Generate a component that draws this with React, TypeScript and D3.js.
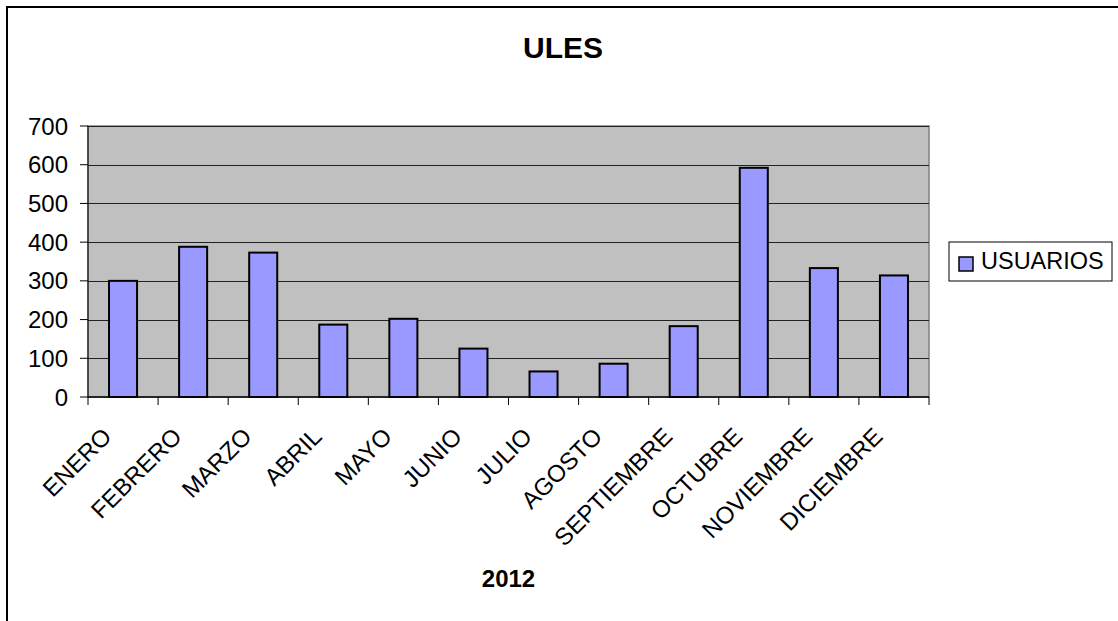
import React from "react";
import * as d3 from "d3";

const months = ["ENERO","FEBRERO","MARZO","ABRIL","MAYO","JUNIO","JULIO","AGOSTO","SEPTIEMBRE","OCTUBRE","NOVIEMBRE","DICIEMBRE"];
const usuarios = [300, 388, 373, 187, 202, 125, 66, 86, 183, 592, 333, 314];
const yTicks = [0, 100, 200, 300, 400, 500, 600, 700];
const seriesName = "USUARIOS";
const title = "ULES";
const xTitle = "2012";

export default function App() {
  const W = 1118, H = 621;
  const left = 88, right = 929, top = 126, bottom = 397;
  const x = d3.scaleBand<string>().domain(months).range([left, right]).padding(0);
  const y = d3.scaleLinear().domain([0, 700]).range([bottom, top]);
  const bw = x.bandwidth() * 0.4;
  const font = "Arial, 'Liberation Sans', sans-serif";
  const boundaries = d3.range(months.length + 1).map(i => left + i * x.bandwidth());

  return (
    <svg width={W} height={H} style={{ position: "absolute", left: 0, top: 0, background: "#fff" }}>
      <rect x={7} y={7} width={1300} height={800} fill="#fff" stroke="#000" strokeWidth={2} />
      <text x={563} y={58} textAnchor="middle" fontFamily={font} fontWeight="bold" fontSize={30}>{title}</text>
      <rect x={left} y={top} width={right - left} height={bottom - top} fill="#C0C0C0" stroke="#808080" strokeWidth={1.5} />
      {yTicks.slice(1).map(t => (
        <line key={"g" + t} x1={left} x2={right} y1={Math.round(y(t)) + 0.5} y2={Math.round(y(t)) + 0.5} stroke="#222" strokeWidth={1} />
      ))}
      {usuarios.map((v, i) => {
        const cx = (x(months[i]) as number) + x.bandwidth() / 2;
        return <rect key={months[i]} x={cx - bw / 2} y={y(v)} width={bw} height={y(0) - y(v)} fill="#9999FF" stroke="#000" strokeWidth={2} />;
      })}
      <line x1={left} x2={left} y1={top} y2={bottom} stroke="#000" strokeWidth={1} />
      <line x1={left} x2={right} y1={bottom} y2={bottom} stroke="#000" strokeWidth={1.5} />
      {yTicks.map(t => (
        <g key={"y" + t}>
          <line x1={left - 8} x2={left} y1={y(t)} y2={y(t)} stroke="#000" strokeWidth={1} />
          <text x={68} y={y(t)} dy="0.36em" textAnchor="end" fontFamily={font} fontSize={24}>{t}</text>
        </g>
      ))}
      {boundaries.map((b, i) => (
        <line key={"xt" + i} x1={b} x2={b} y1={bottom} y2={bottom + 8} stroke="#000" strokeWidth={1} />
      ))}
      {months.map(m => {
        const cx = (x(m) as number) + x.bandwidth() / 2;
        const px = cx - 10, py = 438;
        return <text key={"l" + m} x={px} y={py} transform={`rotate(-45 ${px} ${py})`} textAnchor="end" fontFamily={font} fontSize={24}>{m}</text>;
      })}
      <text x={(left + right) / 2} y={587} textAnchor="middle" fontFamily={font} fontWeight="bold" fontSize={24}>{xTitle}</text>
      <rect x={949} y={242} width={163} height={39} fill="#fff" stroke="#000" strokeWidth={1} />
      <rect x={959} y={257} width={14} height={14} fill="#9999FF" stroke="#000" strokeWidth={1.5} />
      <text x={981} y={269} fontFamily={font} fontSize={23.5}>{seriesName}</text>
    </svg>
  );
}
